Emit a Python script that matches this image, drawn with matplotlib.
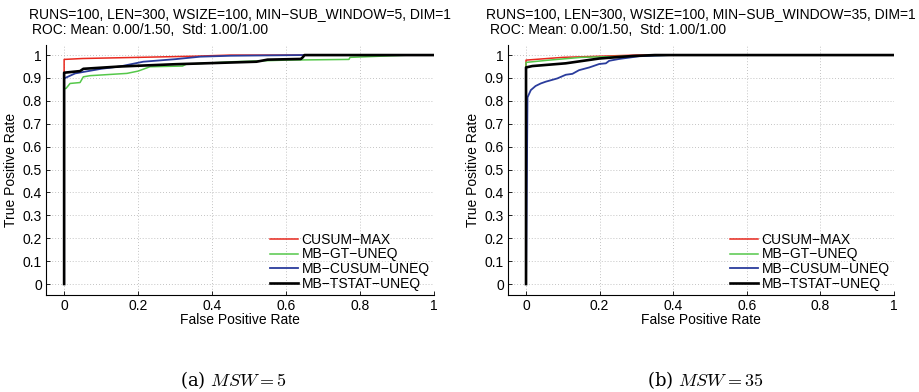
import matplotlib
matplotlib.use("Agg")
import matplotlib.pyplot as plt

plt.rcParams['font.family'] = ['Liberation Sans', 'DejaVu Sans']
plt.rcParams['mathtext.fontset'] = 'cm'

labels = ["CUSUM-MAX", "MB-GT-UNEQ", "MB-CUSUM-UNEQ", "MB-TSTAT-UNEQ"]
colors = ["#e8281e", "#55c84a", "#2a3c9c", "#000000"]
widths = [1.1, 1.1, 1.3, 1.9]

# Panel (a): MSW = 5
a_red_x = [0, 0, 0.05, 0.2, 0.35, 0.45, 1.0]
a_red_y = [0, 0.981, 0.985, 0.99, 0.995, 1.0, 1.0]
a_green_x = [0, 0, 0.005, 0.016, 0.043, 0.052, 0.07, 0.17, 0.2, 0.232, 0.32, 0.33, 0.457, 0.6, 0.77, 0.773, 0.935, 1.0]
a_green_y = [0, 0.854, 0.854, 0.876, 0.88, 0.905, 0.91, 0.92, 0.93, 0.949, 0.952, 0.96, 0.971, 0.978, 0.981, 0.99, 1.0, 1.0]
a_blue_x = [0, 0, 0.03, 0.1, 0.15, 0.214, 0.3, 0.368, 0.45, 0.64, 1.0]
a_blue_y = [0, 0.898, 0.92, 0.94, 0.95, 0.971, 0.982, 0.993, 0.997, 1.0, 1.0]
a_black_x = [0, 0, 0.043, 0.052, 0.15, 0.3, 0.52, 0.55, 0.64, 0.645, 0.65, 1.0]
a_black_y = [0, 0.923, 0.93, 0.94, 0.95, 0.96, 0.971, 0.98, 0.983, 0.99, 1.0, 1.0]

# Panel (b): MSW = 35
b_red_x = [0, 0, 0.1, 0.3, 1.0]
b_red_y = [0, 0.978, 0.99, 1.0, 1.0]
b_green_x = [0, 0, 0.063, 0.15, 0.4, 1.0]
b_green_y = [0, 0.968, 0.978, 0.99, 1.0, 1.0]
b_blue_x = [0, 0.004, 0.013, 0.026, 0.04, 0.054, 0.063, 0.085, 0.108, 0.126, 0.144, 0.172, 0.199, 0.217, 0.226, 0.253, 0.262, 0.308, 0.326, 0.39, 1.0]
b_blue_y = [0, 0.815, 0.847, 0.865, 0.876, 0.884, 0.888, 0.898, 0.914, 0.918, 0.934, 0.946, 0.961, 0.964, 0.975, 0.983, 0.985, 0.995, 0.996, 1.0, 1.0]
b_black_x = [0, 0, 0.017, 0.108, 0.199, 0.29, 0.35, 1.0]
b_black_y = [0, 0.946, 0.952, 0.964, 0.985, 0.996, 1.0, 1.0]

titles = ["RUNS=100, LEN=300, WSIZE=100, MIN\u2212SUB_WINDOW=5, DIM=1",
          "RUNS=100, LEN=300, WSIZE=100, MIN\u2212SUB_WINDOW=35, DIM=1"]
subtitle = "ROC: Mean: 0.00/1.50,  Std: 1.00/1.00"
captions = [r"(a) $MSW = 5$", r"(b) $MSW = 35$"]
xticks = [0, 0.2, 0.4, 0.6, 0.8, 1]
yticks = [0, 0.1, 0.2, 0.3, 0.4, 0.5, 0.6, 0.7, 0.8, 0.9, 1]

panels = [
    [(a_red_x, a_red_y), (a_green_x, a_green_y), (a_blue_x, a_blue_y), (a_black_x, a_black_y)],
    [(b_red_x, b_red_y), (b_green_x, b_green_y), (b_blue_x, b_blue_y), (b_black_x, b_black_y)],
]

W, H = 920, 392
fig = plt.figure(figsize=(W / 100, H / 100), dpi=100)
axes_px = [(46, 434), (508, 894)]
top_px, bot_px = 45, 295
legend_labels = [l.replace("-", "\u2212") for l in labels]
FS = 10

for i, (x0, x1) in enumerate(axes_px):
    ax = fig.add_axes([x0 / W, 1 - bot_px / H, (x1 - x0) / W, (bot_px - top_px) / H])
    for (xs, ys), c, lw, lab in zip(panels[i], colors, widths, legend_labels):
        ax.plot(xs, ys, color=c, lw=lw, label=lab)
    ax.set_xlim(-0.049, 1.0)
    ax.set_ylim(-0.048, 1.044)
    ax.set_xticks(xticks)
    ax.set_xticklabels(["0", "0.2", "0.4", "0.6", "0.8", "1"])
    ax.set_yticks(yticks)
    ax.set_yticklabels(["0", "0.1", "0.2", "0.3", "0.4", "0.5", "0.6", "0.7", "0.8", "0.9", "1"])
    ax.grid(True, linestyle=(0, (1, 2.5)), color="#b0b0b0", lw=0.6)
    ax.spines['top'].set_visible(False)
    ax.spines['right'].set_visible(False)
    ax.tick_params(direction='in', length=3, labelsize=FS, width=0.6, pad=3)
    ax.set_xlabel("False Positive Rate", fontsize=FS, labelpad=0)
    ax.set_ylabel("True Positive Rate", fontsize=FS, labelpad=3)
    ax.legend(loc='lower right', frameon=False, fontsize=FS, handlelength=2.0,
              handletextpad=0.3, labelspacing=0.05, borderaxespad=0.0,
              bbox_to_anchor=(1.0, 0.0), borderpad=0.3)
    xc = (x0 + x1) / 2
    fig.text(xc / W, 1 - 14 / H, titles[i], ha='center', va='center', fontsize=FS)
    fig.text((x0 - 14 if i == 0 else x0 - 18) / W, 1 - 30 / H, subtitle, ha='left', va='center', fontsize=FS)
    fig.text([233, 705][i] / W, 1 - 380 / H, captions[i], ha='center', va='center',
             fontsize=13, family='serif', math_fontfamily='cm')

fig.savefig("out.png", dpi=100)
